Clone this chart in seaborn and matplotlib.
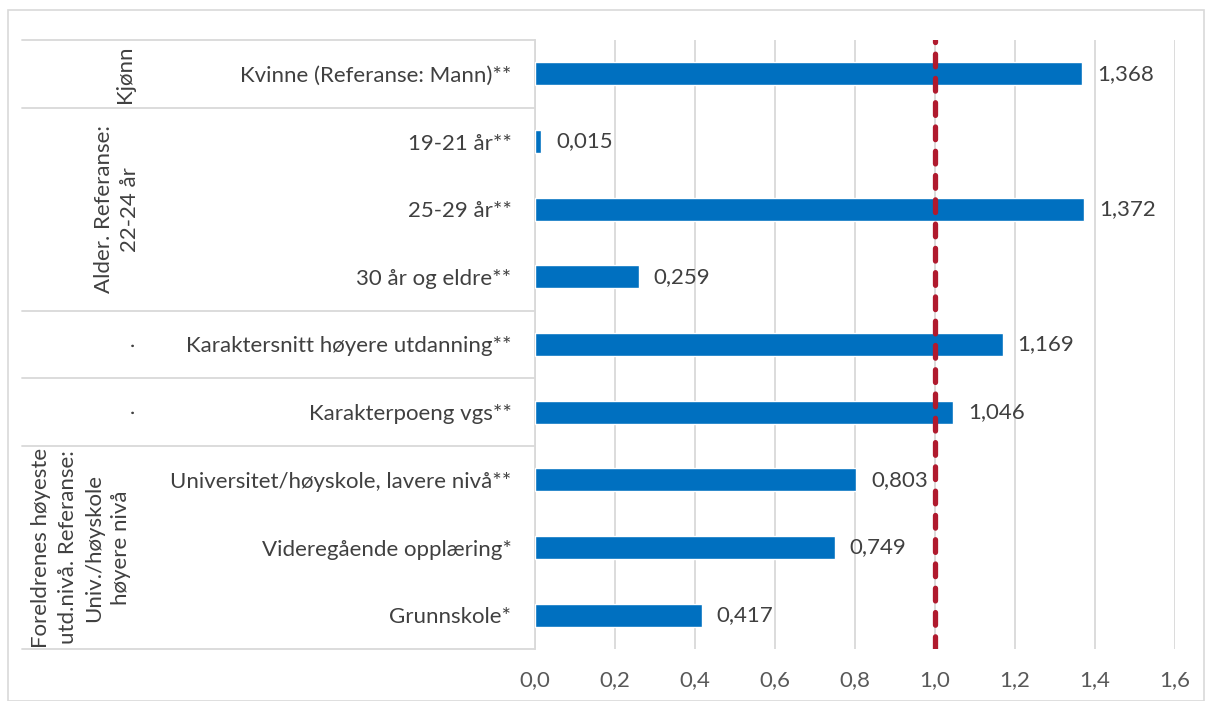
import matplotlib
matplotlib.use("Agg")
import matplotlib.pyplot as plt
import matplotlib.transforms as mtransforms
from matplotlib.patches import Rectangle
import seaborn as sns
import pandas as pd

categories = [
    "Kvinne (Referanse: Mann)**",
    "19-21 år**",
    "25-29 år**",
    "30 år og eldre**",
    "Karaktersnitt høyere utdanning**",
    "Karakterpoeng vgs**",
    "Universitet/høyskole, lavere nivå**",
    "Videregående opplæring*",
    "Grunnskole*",
]
values = [1.368, 0.015, 1.372, 0.259, 1.169, 1.046, 0.803, 0.749, 0.417]
value_labels = ["1,368", "0,015", "1,372", "0,259", "1,169", "1,046", "0,803", "0,749", "0,417"]
x_ticks = [0.0, 0.2, 0.4, 0.6, 0.8, 1.0, 1.2, 1.4, 1.6]
x_tick_labels = ["0,0", "0,2", "0,4", "0,6", "0,8", "1,0", "1,2", "1,4", "1,6"]
group_names = ["Kjønn", "Alder. Referanse:\n22-24 år", "·", "·",
               "Foreldrenes høyeste\nutd.nivå. Referanse:\nUniv./høyskole\nhøyere nivå"]
group_sizes = [1, 3, 1, 1, 3]
reference_value = 1.0

sns.set_theme(style="white")
plt.rcParams["font.family"] = ["Lato", "DejaVu Sans"]

W, H = 1205, 701
fig = plt.figure(figsize=(W / 100, H / 100), dpi=100)
fig.patch.set_facecolor("white")

# outer border
fig.add_artist(Rectangle((8 / W, 0), (W - 9) / W, (H - 10) / H, transform=fig.transFigure,
                         fill=False, edgecolor="#D9D9D9", linewidth=1.2))

ax_left, ax_right, ax_top, ax_bottom = 535, 1175, 40, 649
ax = fig.add_axes([ax_left / W, 1 - ax_bottom / H, (ax_right - ax_left) / W, (ax_bottom - ax_top) / H])

df = pd.DataFrame({"cat": categories, "val": values})
sns.barplot(data=df, x="val", y="cat", order=categories, orient="h", color="#0070C0",
            width=0.34, saturation=1, ax=ax, zorder=3)

FS = 16
ax.set_xlim(0, 1.6)
ax.set_ylim(len(categories) - 0.5, -0.5)
ax.set_xticks(x_ticks)
ax.set_xticklabels(x_tick_labels, fontsize=FS, color="#595959")
ax.set_xlabel("")
ax.set_ylabel("")
ax.tick_params(axis="x", length=0, pad=15)
ax.tick_params(axis="y", length=0, pad=17)
for lab in ax.get_yticklabels():
    lab.set_fontsize(FS)
    lab.set_color("#404040")
ax.grid(axis="x", color="#D9D9D9", linewidth=1.3, zorder=0)
ax.set_axisbelow(True)
for s in ["top", "right", "bottom"]:
    ax.spines[s].set_visible(False)
ax.spines["left"].set_color("#D9D9D9")
ax.spines["left"].set_linewidth(1.3)

ax.axvline(reference_value, color="#B01A2E", linewidth=3.8, dashes=(2.4, 2.2),
           dash_capstyle="round", zorder=4)

for i, (v, lab) in enumerate(zip(values, value_labels)):
    ax.annotate(lab, (v, i), xytext=(15, 0), textcoords="offset pixels",
                va="center", ha="left", fontsize=FS, color="#404040", zorder=5)

# group separators and labels
trans = mtransforms.blended_transform_factory(fig.transFigure, ax.transData)
x0 = 22 / W
x1 = ax_left / W
start = 0
bounds = [-0.5]
for n in group_sizes:
    start += n
    bounds.append(start - 0.5)
for b in bounds:
    ax.plot([x0, x1], [b, b], transform=trans, color="#D9D9D9", linewidth=1.3, clip_on=False, zorder=1)

label_x = [125, 117, 133, 133, 81]
for name, n, lb, lx in zip(group_names, group_sizes, bounds[:-1], label_x):
    ymid = lb + n / 2
    fs = FS if name != "·" else 12
    ax.text(lx / W, ymid, name, transform=trans, rotation=90, ha="center", va="center",
            multialignment="center", fontsize=fs, color="#404040", linespacing=1.4)

fig.savefig("out.png", dpi=100)
